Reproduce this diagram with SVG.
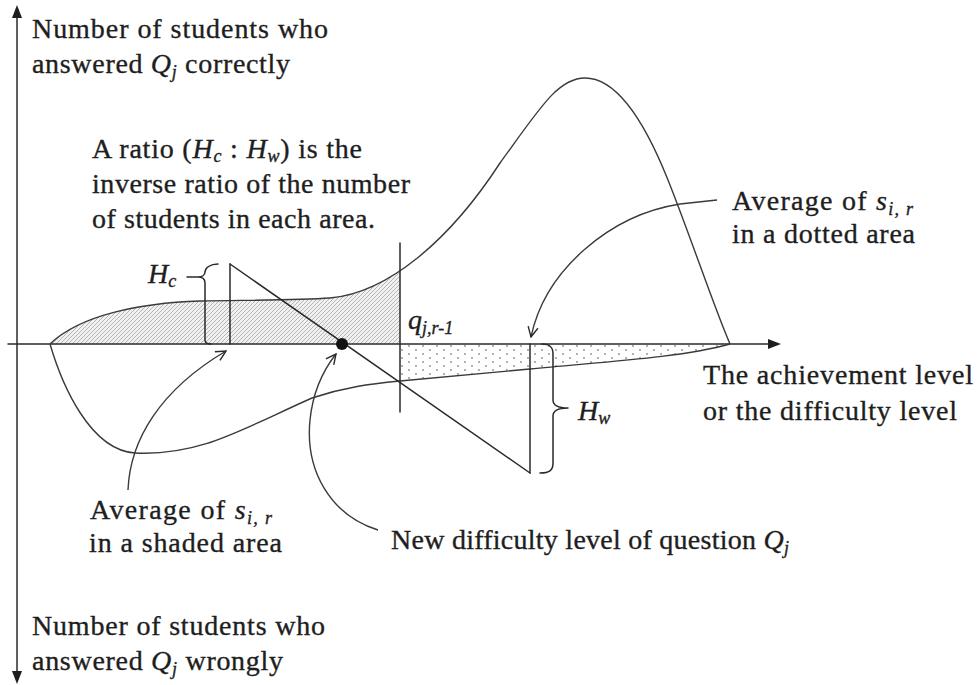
<svg xmlns="http://www.w3.org/2000/svg" width="979" height="685" viewBox="0 0 979 685">
<style>
.ln{fill:none;stroke:#2a2a2a;stroke-width:1.5;stroke-linecap:round;stroke-linejoin:round}
.cv{fill:none;stroke:#3a3a3a;stroke-width:1.4}
.tx{font-family:"Liberation Serif","Times New Roman",serif;font-size:28px;fill:#1e1e1e;stroke:#1e1e1e;stroke-width:0.35}
.it{font-style:italic}
.sb{font-size:18px;font-style:italic}
</style>
<defs>
<pattern id="hatch" width="4" height="4" patternUnits="userSpaceOnUse">
<rect width="4" height="4" fill="#f1f1f1"/>
<path d="M0,4 L4,0 M-1,1 L1,-1 M3,5 L5,3" stroke="#9a9a9a" stroke-width="0.7"/>
</pattern>
<pattern id="dots" width="14" height="8" patternUnits="userSpaceOnUse">
<circle cx="3" cy="2" r="0.9" fill="#8a8a8a"/>
<circle cx="10" cy="6" r="0.9" fill="#8a8a8a"/>
</pattern>
<clipPath id="leftClip"><rect x="0" y="0" width="400" height="685"/></clipPath>
<clipPath id="rightClip"><rect x="400" y="0" width="400" height="685"/></clipPath>
<marker id="open" viewBox="0 0 12 12" refX="11" refY="6" markerWidth="12" markerHeight="12" markerUnits="userSpaceOnUse" orient="auto">
<path d="M1,1 L11,6 L1,11" fill="none" stroke="#2a2a2a" stroke-width="1.4"/>
</marker>
</defs>

<g id="areas">
<path clip-path="url(#leftClip)" fill="url(#hatch)" d="M50,344 C80,315 140,303 200,301 C260,300 300,300 330,298 C388,293 450,240 500,163 C540,108 558,78 585,78 C612,78 640,110 668,180 C690,235 715,310 730,344 Z"/>
<path clip-path="url(#rightClip)" fill="url(#dots)" d="M50,344 C62,385 90,450 135,453 C200,456 240,430 312,398 C345,387 370,384 400,381 L530,369 C600,362 680,358 730,344 Z"/>
</g>

<g id="axes">
<line class="ln" x1="17" y1="14" x2="17" y2="674"/>
<polygon points="17,5 12,18 22,18" fill="#1e1e1e"/>
<polygon points="17,684 12,671 22,671" fill="#1e1e1e"/>
<line class="ln" x1="8" y1="344" x2="770" y2="344"/>
<polygon points="781,344 768,339 768,349" fill="#1e1e1e"/>
</g>

<g id="curves">
<path class="cv" d="M50,344 C80,315 140,303 200,301 C260,300 300,300 330,298 C388,293 450,240 500,163 C540,108 558,78 585,78 C612,78 640,110 668,180 C690,235 715,310 730,344"/>
<path class="cv" d="M50,344 C62,385 90,450 135,453 C200,456 240,430 312,398 C345,387 370,384 400,381 L530,369 C600,362 680,358 730,344"/>
</g>

<g id="construction">
<line class="ln" x1="400" y1="243" x2="400" y2="412"/>
<line class="ln" x1="230" y1="264" x2="230" y2="344"/>
<line class="ln" x1="230" y1="264" x2="530" y2="473"/>
<line class="ln" x1="530" y1="344" x2="530" y2="473"/>
<circle cx="342" cy="344" r="6" fill="#111"/>
<path class="ln" d="M218,264 C210,264 205,268 205,272 C205,275 202,277 198,277 M187,277 L198,277 C202,277 205,279 205,283 L205,340 C205,343 207,344 211,344"/>
<path class="ln" d="M542,344 C550,344 553,347 553,354 L553,400 C553,405 558,408 568,408 C558,408 553,411 553,416 L553,463 C553,470 550,473 540,473"/>
</g>

<g id="connectors">
<path class="cv" marker-end="url(#open)" d="M128,490 C130,440 160,390 226,351"/>
<path class="cv" marker-end="url(#open)" d="M378,530 C330,515 305,470 310,420 C313,390 325,368 336,354"/>
<path class="cv" marker-end="url(#open)" d="M717,200 L680,204 C610,215 545,270 531,337"/>
</g>

<g id="labels">
<text class="tx" x="32" y="38" textLength="296" lengthAdjust="spacing">Number of students who</text>
<text class="tx" x="32" y="73" textLength="258" lengthAdjust="spacing">answered <tspan class="it">Q</tspan><tspan class="sb" dy="5">j</tspan><tspan dy="-5"> correctly</tspan></text>

<text class="tx" x="92" y="158" textLength="270" lengthAdjust="spacing">A ratio (<tspan class="it">H</tspan><tspan class="sb" dy="4">c</tspan><tspan dy="-4"> : </tspan><tspan class="it">H</tspan><tspan class="sb" dy="4">w</tspan><tspan dy="-4">) is the</tspan></text>
<text class="tx" x="92" y="193" textLength="318" lengthAdjust="spacing">inverse ratio of the number</text>
<text class="tx" x="92" y="228" textLength="283" lengthAdjust="spacing">of students in each area.</text>

<text class="tx" x="148" y="283"><tspan class="it">H</tspan><tspan class="sb" dy="4">c</tspan></text>
<text class="tx" x="578" y="420"><tspan class="it">H</tspan><tspan class="sb" dy="4">w</tspan></text>
<text class="tx" x="408" y="329"><tspan class="it">q</tspan><tspan class="sb" dy="5">j,r-1</tspan></text>

<text class="tx" x="732" y="210" textLength="181" lengthAdjust="spacing">Average of <tspan class="it">s</tspan><tspan class="sb" dy="5">i, r</tspan></text>
<text class="tx" x="732" y="243" textLength="183" lengthAdjust="spacing">in a dotted area</text>

<text class="tx" x="703" y="384" textLength="270" lengthAdjust="spacing">The achievement level</text>
<text class="tx" x="703" y="420" textLength="254" lengthAdjust="spacing">or the difficulty level</text>

<text class="tx" x="90" y="519" textLength="182" lengthAdjust="spacing">Average of <tspan class="it">s</tspan><tspan class="sb" dy="5">i, r</tspan></text>
<text class="tx" x="89" y="552" textLength="193" lengthAdjust="spacing">in a shaded area</text>

<text class="tx" x="391" y="549" textLength="398" lengthAdjust="spacing">New difficulty level of question <tspan class="it">Q</tspan><tspan class="sb" dy="5">j</tspan></text>

<text class="tx" x="32" y="635" textLength="293" lengthAdjust="spacing">Number of students who</text>
<text class="tx" x="32" y="670" textLength="251" lengthAdjust="spacing">answered <tspan class="it">Q</tspan><tspan class="sb" dy="5">j</tspan><tspan dy="-5"> wrongly</tspan></text>
</g>
</svg>
